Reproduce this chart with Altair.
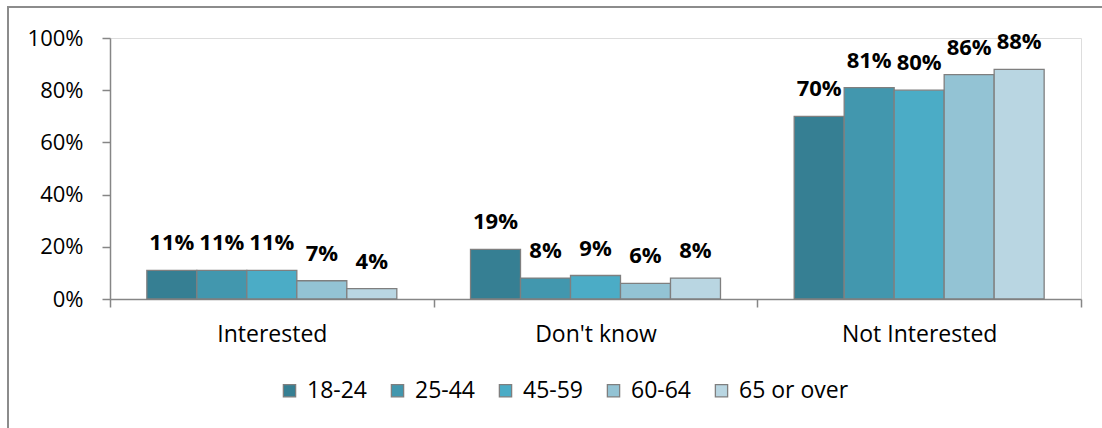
import altair as alt
import pandas as pd

# Survey answers by age band (percent of respondents)
categories = ["Interested", "Don't know", "Not Interested"]
age_groups = ["18-24", "25-44", "45-59", "60-64", "65 or over"]
interested = [11, 11, 11, 7, 4]
dont_know = [19, 8, 9, 6, 8]
not_interested = [70, 81, 80, 86, 88]
palette = ["#367f93", "#4297ae", "#4bacc6", "#93c3d4", "#b9d6e2"]

rows = []
for cat, vals in zip(categories, [interested, dont_know, not_interested]):
    for age, v in zip(age_groups, vals):
        rows.append({"answer": cat, "age": age, "share": v / 100, "label": f"{v}%"})
df = pd.DataFrame(rows)

FONT = "Open Sans"
GREY = "#868686"

x_enc = alt.X(
    "answer:N",
    sort=categories,
    title=None,
    scale=alt.Scale(paddingInner=0, paddingOuter=0),
    axis=alt.Axis(
        labelAngle=0,
        tickBand="extent",
        tickSize=8,
        labelPadding=16,
        domainColor=GREY,
        tickColor=GREY,
        domainWidth=1.5,
        tickWidth=1.5,
        labelFontSize=23,
        labelColor="#000000",
    ),
)
xoff_enc = alt.XOffset(
    "age:N", sort=age_groups, scale=alt.Scale(paddingInner=0, paddingOuter=0.737)
)
y_enc = alt.Y(
    "share:Q",
    title=None,
    scale=alt.Scale(domain=[0, 1], nice=False),
    axis=alt.Axis(
        values=[0, 0.2, 0.4, 0.6, 0.8, 1.0],
        format=".0%",
        grid=False,
        tickSize=8,
        labelPadding=19,
        domainColor=GREY,
        tickColor=GREY,
        domainWidth=1.5,
        tickWidth=1.5,
        labelFontSize=22,
        labelColor="#000000",
    ),
)

bars = alt.Chart(df).mark_bar(stroke="#7f7f7f", strokeWidth=1.3).encode(
    x=x_enc,
    xOffset=xoff_enc,
    y=y_enc,
    color=alt.Color(
        "age:N",
        sort=age_groups,
        scale=alt.Scale(domain=age_groups, range=palette),
        legend=alt.Legend(
            title=None,
            orient="none",
            direction="horizontal",
            legendX=168,
            legendY=341,
            symbolType="square",
            symbolSize=150,
            symbolStrokeColor="#7f7f7f",
            symbolStrokeWidth=1.3,
            symbolOpacity=1,
            labelFontSize=23,
            labelColor="#000000",
            labelOffset=6,
            columnPadding=18,
            padding=0,
        ),
    ),
)

labels = alt.Chart(df).mark_text(
    font=FONT, fontSize=22, fontWeight="bold", color="#000000",
    align="center", baseline="alphabetic", dy=-20,
).encode(
    x=alt.X("answer:N", sort=categories),
    xOffset=alt.XOffset("age:N", sort=age_groups),
    y="share:Q",
    text="label:N",
)

# Outer frame around the whole figure
frame = alt.Chart(df).mark_rect(
    fill=None, stroke="#8c8c8c", strokeWidth=1.5
).encode(
    x=alt.value(-102), x2=alt.value(1040),
    y=alt.value(-31), y2=alt.value(420),
)

chart = (
    alt.layer(frame, bars, labels)
    .properties(
        width=971,
        height=261,
        padding={"left": 110, "top": 38, "right": 21, "bottom": 129},
        autosize=alt.AutoSizeParams(type="none"),
        background="#ffffff",
    )
    .configure_view(strokeWidth=0)
    .configure(font=FONT)
)

chart.save("out.html", embed_options={"renderer": "svg", "actions": False})
